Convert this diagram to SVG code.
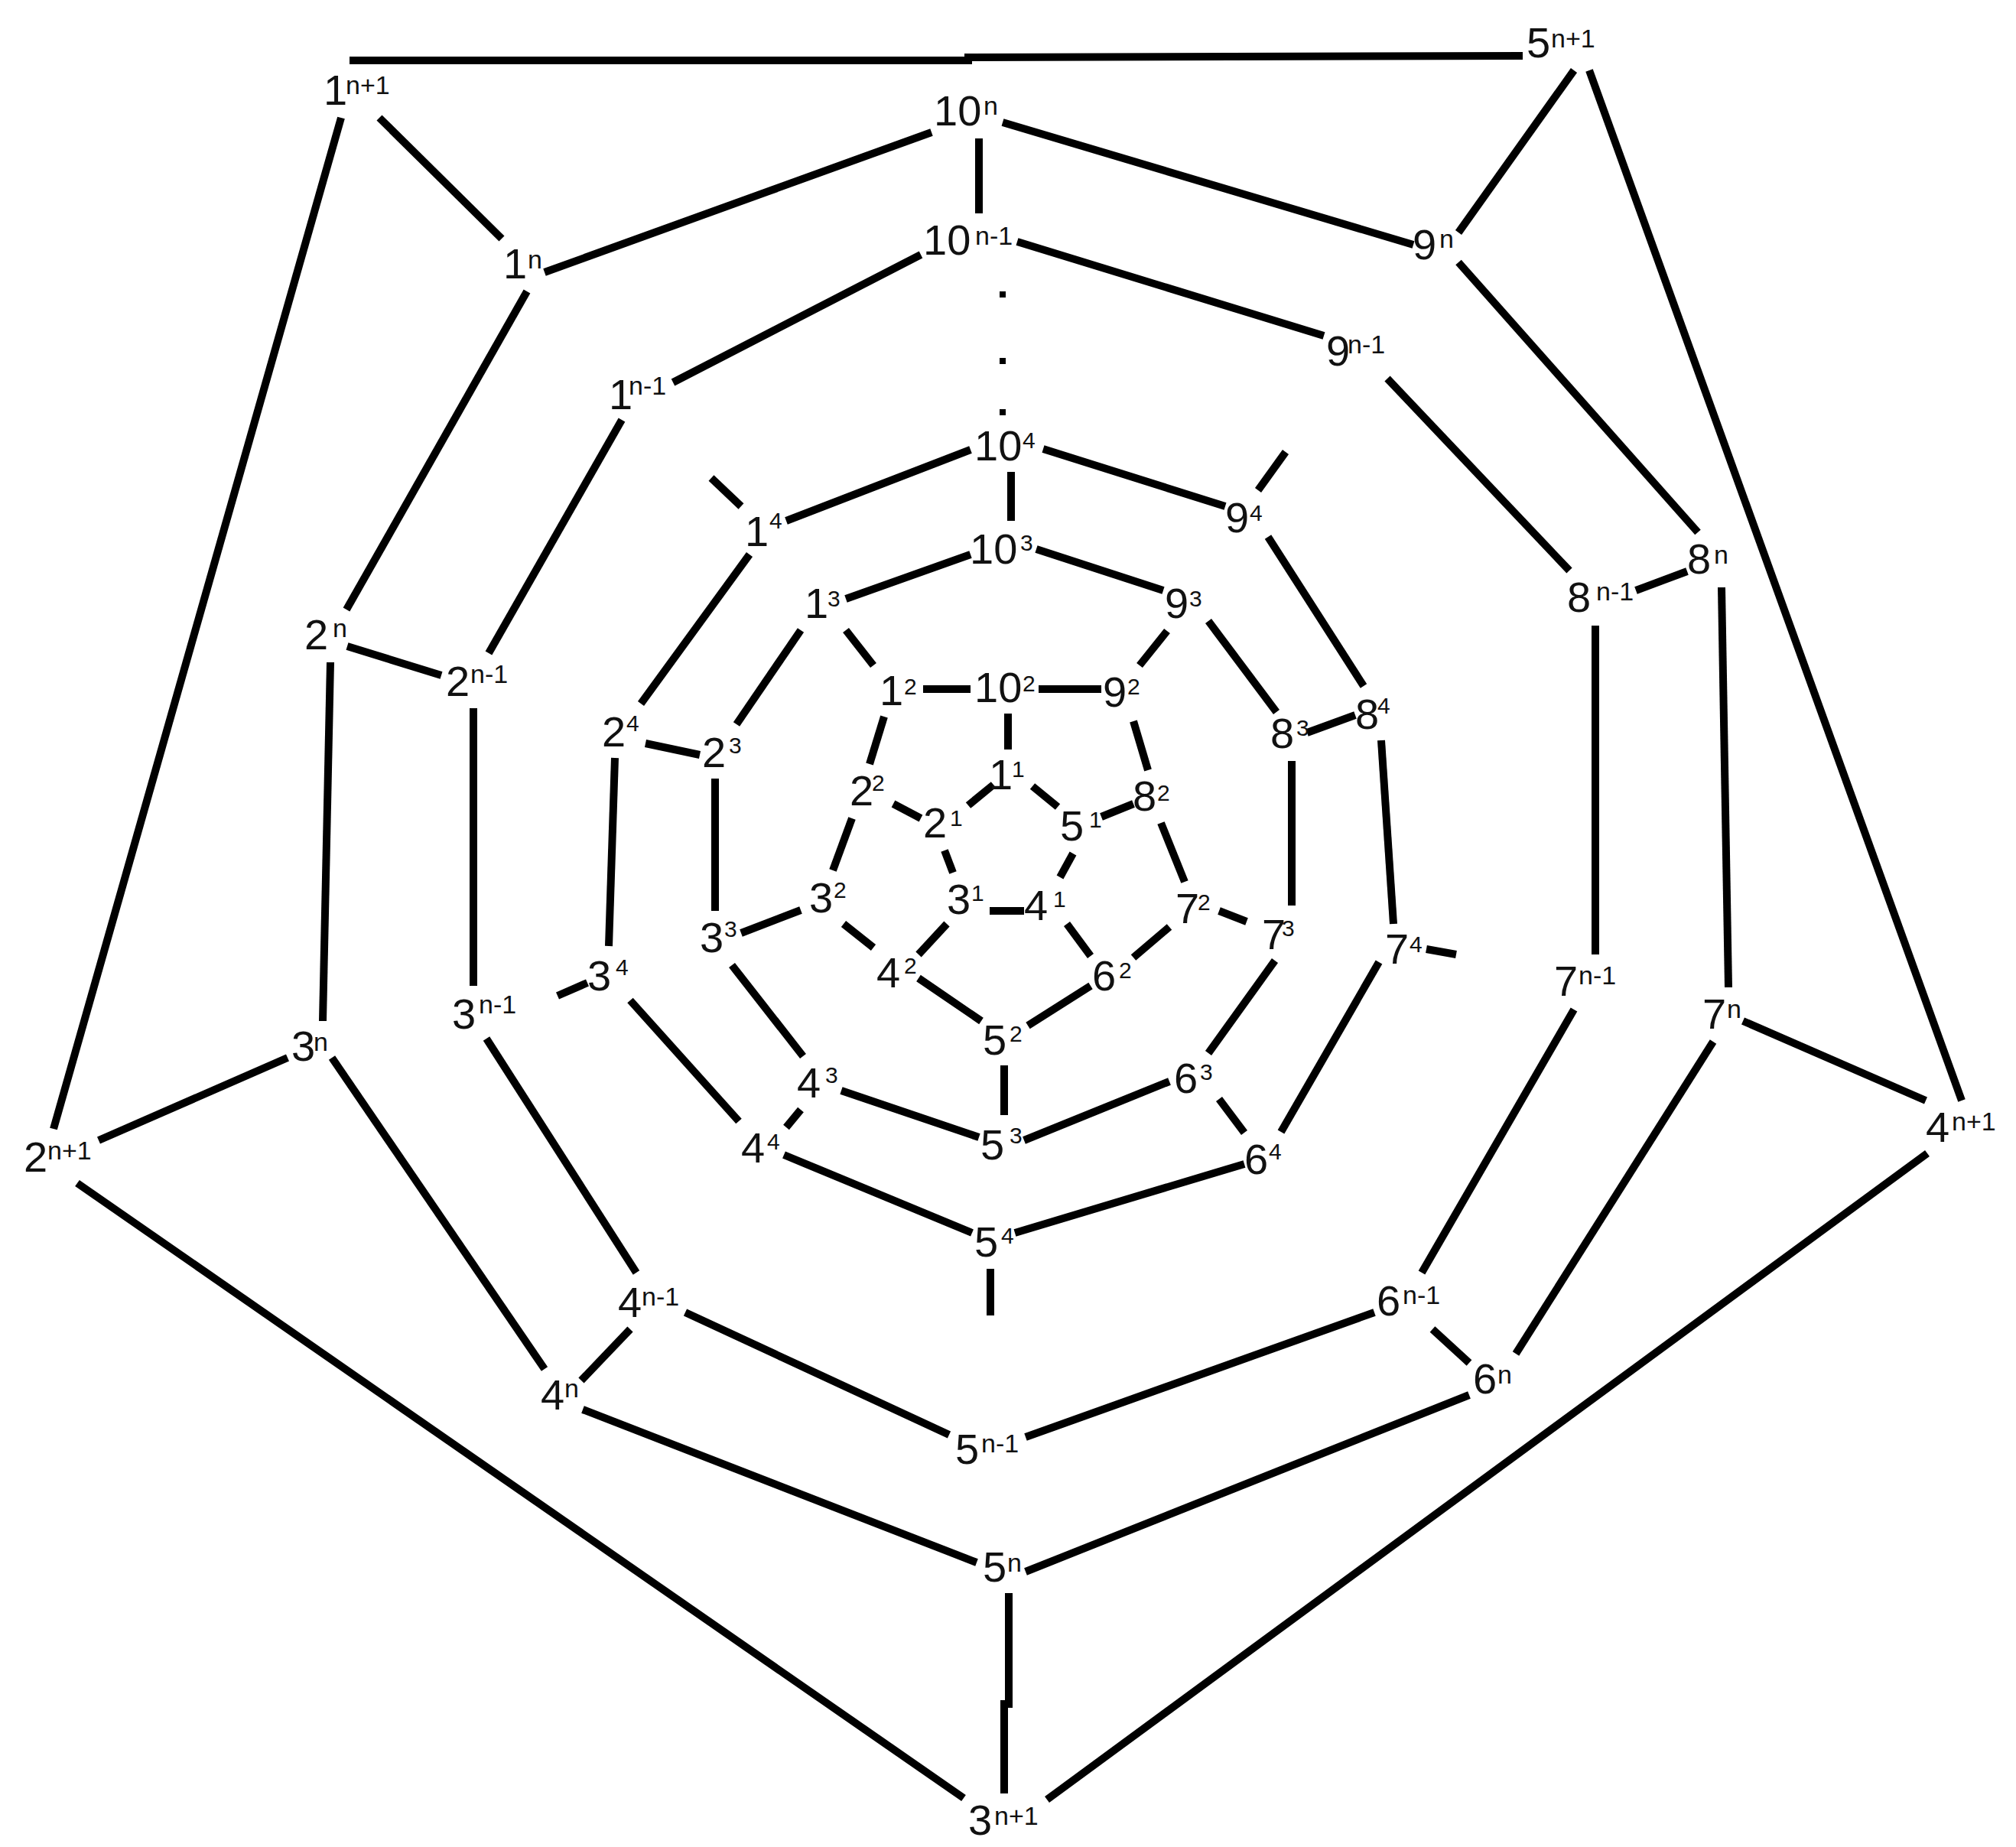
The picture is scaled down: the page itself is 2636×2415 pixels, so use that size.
<svg xmlns="http://www.w3.org/2000/svg" width="2636" height="2415" viewBox="0 0 2636 2415">
<style>
.e{stroke:#000;stroke-width:10;fill:none;stroke-linecap:butt;stroke-linejoin:miter}
text{font-family:"Liberation Sans",Arial,sans-serif;font-size:56px;fill:#111}
.s{font-size:34px}
.d{font-size:30px}
</style>
<rect width="2636" height="2415" fill="#fff"/>
<g id="connectors" class="e">
<!-- outer ring n+1 -->
<polyline points="457,79 1266,79 1266,75 1991,73"/>
<line x1="446" y1="154" x2="70" y2="1476"/>
<line x1="2078" y1="92" x2="2565" y2="1439"/>
<line x1="101" y1="1547" x2="1260" y2="2351"/>
<line x1="2520" y1="1508" x2="1369" y2="2353"/>
<!-- n+1 to n -->
<line x1="496" y1="154" x2="656" y2="312"/>
<line x1="2058" y1="92" x2="1907" y2="304"/>
<line x1="2518" y1="1439" x2="2279" y2="1335"/>
<line x1="129" y1="1491" x2="376" y2="1383"/>
<polyline points="1319,2083 1319,2228 1313,2228 1313,2345"/>
<!-- ring n -->
<line x1="1218" y1="173" x2="712" y2="356"/>
<line x1="1311" y1="160" x2="1848" y2="320"/>
<line x1="1907" y1="343" x2="2220" y2="696"/>
<line x1="2251" y1="768" x2="2260" y2="1291"/>
<line x1="2240" y1="1362" x2="1982" y2="1770"/>
<line x1="1921" y1="1824" x2="1341" y2="2055"/>
<line x1="1277" y1="2043" x2="762" y2="1843"/>
<line x1="712" y1="1790" x2="434" y2="1383"/>
<line x1="422" y1="1335" x2="432" y2="866"/>
<line x1="453" y1="797" x2="689" y2="381"/>
<!-- n to n-1 -->
<line x1="1280" y1="181" x2="1280" y2="279"/>
<line x1="454" y1="845" x2="577" y2="883"/>
<line x1="824" y1="1738" x2="760" y2="1805"/>
<line x1="1873" y1="1738" x2="1921" y2="1782"/>
<line x1="2139" y1="772" x2="2206" y2="747"/>
<!-- ring n-1 -->
<line x1="1204" y1="333" x2="880" y2="500"/>
<line x1="1330" y1="316" x2="1731" y2="439"/>
<line x1="1814" y1="495" x2="2052" y2="746"/>
<line x1="2086" y1="818" x2="2086" y2="1248"/>
<line x1="2058" y1="1320" x2="1859" y2="1664"/>
<line x1="1797" y1="1716" x2="1341" y2="1879"/>
<line x1="1241" y1="1876" x2="896" y2="1716"/>
<line x1="832" y1="1664" x2="636" y2="1358"/>
<line x1="619" y1="1289" x2="619" y2="926"/>
<line x1="639" y1="854" x2="813" y2="549"/>
<!-- ring 4 stubs -->
<line x1="930" y1="625" x2="969" y2="662"/>
<line x1="1681" y1="591" x2="1645" y2="641"/>
<line x1="1865" y1="1241" x2="1904" y2="1248"/>
<line x1="1295" y1="1659" x2="1295" y2="1720"/>
<line x1="729" y1="1302" x2="768" y2="1285"/>
<!-- ring 4 -->
<line x1="1269" y1="588" x2="1028" y2="681"/>
<line x1="1364" y1="587" x2="1602" y2="662"/>
<line x1="1658" y1="702" x2="1783" y2="897"/>
<line x1="1806" y1="968" x2="1822" y2="1208"/>
<line x1="1803" y1="1258" x2="1675" y2="1480"/>
<line x1="1627" y1="1522" x2="1327" y2="1612"/>
<line x1="1271" y1="1612" x2="1025" y2="1510"/>
<line x1="966" y1="1466" x2="824" y2="1308"/>
<line x1="796" y1="1237" x2="804" y2="991"/>
<line x1="838" y1="920" x2="980" y2="725"/>
<!-- ring 4 to 3 -->
<line x1="1322" y1="617" x2="1322" y2="681"/>
<line x1="1772" y1="935" x2="1709" y2="958"/>
<line x1="1627" y1="1481" x2="1594" y2="1437"/>
<line x1="1028" y1="1474" x2="1047" y2="1451"/>
<line x1="844" y1="972" x2="915" y2="987"/>
<!-- ring 3 -->
<line x1="1269" y1="725" x2="1106" y2="783"/>
<line x1="1355" y1="718" x2="1521" y2="772"/>
<line x1="1580" y1="812" x2="1669" y2="931"/>
<line x1="1689" y1="995" x2="1689" y2="1184"/>
<line x1="1667" y1="1256" x2="1580" y2="1377"/>
<line x1="1529" y1="1414" x2="1339" y2="1491"/>
<line x1="1280" y1="1487" x2="1100" y2="1426"/>
<line x1="1050" y1="1381" x2="957" y2="1262"/>
<line x1="935" y1="1191" x2="935" y2="1018"/>
<line x1="963" y1="947" x2="1047" y2="824"/>
<!-- ring 3 to 2 -->
<line x1="1106" y1="824" x2="1142" y2="870"/>
<line x1="1526" y1="825" x2="1490" y2="870"/>
<line x1="1630" y1="1205" x2="1594" y2="1191"/>
<line x1="1313" y1="1458" x2="1313" y2="1393"/>
<line x1="969" y1="1220" x2="1047" y2="1190"/>
<!-- ring 2 -->
<line x1="1207" y1="901" x2="1269" y2="901"/>
<line x1="1358" y1="901" x2="1440" y2="901"/>
<line x1="1482" y1="943" x2="1501" y2="1007"/>
<line x1="1518" y1="1076" x2="1549" y2="1153"/>
<line x1="1529" y1="1212" x2="1482" y2="1252"/>
<line x1="1426" y1="1289" x2="1344" y2="1341"/>
<line x1="1283" y1="1335" x2="1201" y2="1279"/>
<line x1="1142" y1="1239" x2="1103" y2="1208"/>
<line x1="1089" y1="1138" x2="1114" y2="1070"/>
<line x1="1137" y1="999" x2="1156" y2="937"/>
<!-- ring 2 to 1 -->
<line x1="1318" y1="933" x2="1318" y2="980"/>
<line x1="1168" y1="1051" x2="1204" y2="1070"/>
<line x1="1201" y1="1248" x2="1238" y2="1208"/>
<line x1="1426" y1="1250" x2="1395" y2="1208"/>
<line x1="1482" y1="1051" x2="1440" y2="1068"/>
<!-- ring 1 -->
<line x1="1299" y1="1026" x2="1266" y2="1053"/>
<line x1="1350" y1="1028" x2="1383" y2="1055"/>
<line x1="1235" y1="1112" x2="1246" y2="1141"/>
<line x1="1294" y1="1191" x2="1339" y2="1191"/>
<line x1="1386" y1="1147" x2="1403" y2="1116"/>
</g>
<g id="ellipsis" fill="#000">
<rect x="1307" y="381" width="8" height="8"/>
<rect x="1307" y="468" width="8" height="8"/>
<rect x="1307" y="535" width="8" height="8"/>
</g>
<!-- ring n+1 -->
<g id="v1-np1"><text x="423" y="137">1<tspan class="s" x="452" y="123">n+1</tspan></text></g>
<g id="v5-np1"><text x="1996" y="75">5<tspan class="s" x="2028" y="62">n+1</tspan></text></g>
<g id="v4-np1"><text x="2518" y="1493">4<tspan class="s" x="2552" y="1478">n+1</tspan></text></g>
<g id="v3-np1"><text x="1266" y="2399">3<tspan class="s" x="1300" y="2386">n+1</tspan></text></g>
<g id="v2-np1"><text x="31" y="1532">2<tspan class="s" x="62" y="1516">n+1</tspan></text></g>
<!-- ring n -->
<g id="v10-n"><text x="1221" y="164">10<tspan class="s" x="1286" y="150">n</tspan></text></g>
<g id="v1-n"><text x="658" y="364">1<tspan class="s" x="690" y="351">n</tspan></text></g>
<g id="v9-n"><text x="1847" y="339">9<tspan class="s" x="1882" y="324">n</tspan></text></g>
<g id="v8-n"><text x="2206" y="750">8<tspan class="s" x="2241" y="737">n</tspan></text></g>
<g id="v7-n"><text x="2226" y="1345">7<tspan class="s" x="2258" y="1331">n</tspan></text></g>
<g id="v6-n"><text x="1926" y="1822">6<tspan class="s" x="1958" y="1809">n</tspan></text></g>
<g id="v5-n"><text x="1285" y="2068">5<tspan class="s" x="1317" y="2055">n</tspan></text></g>
<g id="v4-n"><text x="707" y="1843">4<tspan class="s" x="738" y="1827">n</tspan></text></g>
<g id="v3-n"><text x="381" y="1387">3<tspan class="s" x="410" y="1374">n</tspan></text></g>
<g id="v2-n"><text x="398" y="849">2<tspan class="s" x="435" y="833">n</tspan></text></g>
<!-- ring n-1 -->
<g id="v10-nm1"><text x="1207" y="333">10<tspan class="s" x="1275" y="320">n-1</tspan></text></g>
<g id="v1-nm1"><text x="796" y="535">1<tspan class="s" x="822" y="516">n-1</tspan></text></g>
<g id="v9-nm1"><text x="1734" y="478">9<tspan class="s" x="1762" y="462">n-1</tspan></text></g>
<g id="v8-nm1"><text x="2049" y="800">8<tspan class="s" x="2087" y="785">n-1</tspan></text></g>
<g id="v7-nm1"><text x="2032" y="1302">7<tspan class="s" x="2064" y="1287">n-1</tspan></text></g>
<g id="v6-nm1"><text x="1800" y="1720">6<tspan class="s" x="1834" y="1705">n-1</tspan></text></g>
<g id="v5-nm1"><text x="1249" y="1914">5<tspan class="s" x="1283" y="1899">n-1</tspan></text></g>
<g id="v4-nm1"><text x="808" y="1722">4<tspan class="s" x="839" y="1707">n-1</tspan></text></g>
<g id="v3-nm1"><text x="591" y="1345">3<tspan class="s" x="626" y="1325">n-1</tspan></text></g>
<g id="v2-nm1"><text x="583" y="910">2<tspan class="s" x="615" y="893">n-1</tspan></text></g>
<!-- ring 4 -->
<g id="v10-4"><text x="1274" y="602">10<tspan class="d" x="1337" y="586">4</tspan></text></g>
<g id="v1-4"><text x="974" y="714">1<tspan class="d" x="1006" y="691">4</tspan></text></g>
<g id="v9-4"><text x="1602" y="696">9<tspan class="d" x="1634" y="681">4</tspan></text></g>
<g id="v8-4"><text x="1772" y="953">8<tspan class="d" x="1801" y="933">4</tspan></text></g>
<g id="v7-4"><text x="1811" y="1260">7<tspan class="d" x="1843" y="1245">4</tspan></text></g>
<g id="v6-4"><text x="1627" y="1535">6<tspan class="d" x="1659" y="1516">4</tspan></text></g>
<g id="v5-4"><text x="1274" y="1643">5<tspan class="d" x="1309" y="1626">4</tspan></text></g>
<g id="v4-4"><text x="969" y="1520">4<tspan class="d" x="1003" y="1503">4</tspan></text></g>
<g id="v3-4"><text x="768" y="1295">3<tspan class="d" x="805" y="1275">4</tspan></text></g>
<g id="v2-4"><text x="787" y="976">2<tspan class="d" x="819" y="956">4</tspan></text></g>
<!-- ring 3 -->
<g id="v10-3"><text x="1268" y="737">10<tspan class="d" x="1334" y="720">3</tspan></text></g>
<g id="v1-3"><text x="1052" y="808">1<tspan class="d" x="1082" y="793">3</tspan></text></g>
<g id="v9-3"><text x="1523" y="808">9<tspan class="d" x="1555" y="793">3</tspan></text></g>
<g id="v8-3"><text x="1661" y="978">8<tspan class="d" x="1695" y="962">3</tspan></text></g>
<g id="v7-3"><text x="1650" y="1241">7<tspan class="d" x="1676" y="1224">3</tspan></text></g>
<g id="v6-3"><text x="1535" y="1429">6<tspan class="d" x="1569" y="1412">3</tspan></text></g>
<g id="v5-3"><text x="1282" y="1516">5<tspan class="d" x="1320" y="1495">3</tspan></text></g>
<g id="v4-3"><text x="1042" y="1435">4<tspan class="d" x="1079" y="1416">3</tspan></text></g>
<g id="v3-3"><text x="915" y="1245">3<tspan class="d" x="947" y="1225">3</tspan></text></g>
<g id="v2-3"><text x="918" y="1003">2<tspan class="d" x="953" y="985">3</tspan></text></g>
<!-- ring 2 -->
<g id="v1-2"><text x="1150" y="922">1<tspan class="d" x="1182" y="908">2</tspan></text></g>
<g id="v10-2"><text x="1274" y="918">10<tspan class="d" x="1337" y="904">2</tspan></text></g>
<g id="v9-2"><text x="1442" y="924">9<tspan class="d" x="1474" y="908">2</tspan></text></g>
<g id="v8-2"><text x="1481" y="1060">8<tspan class="d" x="1513" y="1047">2</tspan></text></g>
<g id="v7-2"><text x="1537" y="1207">7<tspan class="d" x="1566" y="1190">2</tspan></text></g>
<g id="v6-2"><text x="1428" y="1295">6<tspan class="d" x="1463" y="1279">2</tspan></text></g>
<g id="v5-2"><text x="1285" y="1379">5<tspan class="d" x="1320" y="1362">2</tspan></text></g>
<g id="v4-2"><text x="1146" y="1291">4<tspan class="d" x="1182" y="1273">2</tspan></text></g>
<g id="v3-2"><text x="1058" y="1193">3<tspan class="d" x="1090" y="1174">2</tspan></text></g>
<g id="v2-2"><text x="1111" y="1053">2<tspan class="d" x="1140" y="1034">2</tspan></text></g>
<!-- ring 1 -->
<g id="v1-1"><text x="1293" y="1032">1<tspan class="d" x="1323" y="1016">1</tspan></text></g>
<g id="v2-1"><text x="1207" y="1095">2<tspan class="d" x="1242" y="1080">1</tspan></text></g>
<g id="v3-1"><text x="1238" y="1195">3<tspan class="d" x="1270" y="1178">1</tspan></text></g>
<g id="v4-1"><text x="1339" y="1203">4<tspan class="d" x="1377" y="1186">1</tspan></text></g>
<g id="v5-1"><text x="1386" y="1099">5<tspan class="d" x="1424" y="1082">1</tspan></text></g>
</svg>
